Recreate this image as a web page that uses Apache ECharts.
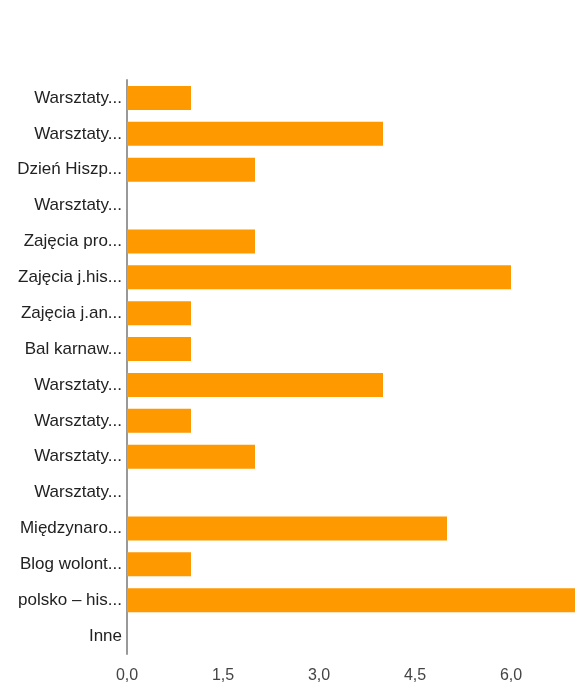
<!DOCTYPE html>
<html>
<head>
<meta charset="utf-8">
<style>
  html, body { margin: 0; padding: 0; background: #fff; }
  #chart { width: 575px; height: 684px; }
</style>
<script src="https://cdn.jsdelivr.net/npm/echarts@6/dist/echarts.min.js"></script>
</head>
<body>
<div id="chart"></div>
<script>
// kategorie (etykiety skrócone tak jak na wykresie)
const categories = [
  'Warsztaty...', 'Warsztaty...', 'Dzień Hiszp...', 'Warsztaty...',
  'Zajęcia pro...', 'Zajęcia j.his...', 'Zajęcia j.an...', 'Bal karnaw...',
  'Warsztaty...', 'Warsztaty...', 'Warsztaty...', 'Warsztaty...',
  'Międzynaro...', 'Blog wolont...', 'polsko – his...', 'Inne'
];
const values = [1, 4, 2, 0, 2, 6, 1, 1, 4, 1, 2, 0, 5, 1, 7, 0];
const xTicks = [0, 1.5, 3, 4.5, 6];

const chart = echarts.init(document.getElementById('chart'));
const option = {
  animation: false,
  textStyle: { fontFamily: 'Liberation Sans, Arial, sans-serif' },
  grid: { left: 127, right: 0, top: 80, bottom: 29 },
  xAxis: {
    type: 'value',
    min: 0,
    max: 7,
    interval: xTicks[1] - xTicks[0],
    axisLine: { show: false },
    axisTick: { show: false },
    splitLine: { show: false },
    axisLabel: {
      showMaxLabel: false,
      margin: 14,
      fontSize: 16,
      color: '#444',
      formatter: v => v.toFixed(1).replace('.', ',')
    }
  },
  yAxis: {
    type: 'category',
    inverse: true,
    data: categories.map((c, i) => ({ value: i + '', label: c })),
    axisLine: { show: true, lineStyle: { color: '#999', width: 2 } },
    axisTick: { show: false },
    axisLabel: {
      margin: 5,
      fontSize: 17,
      color: '#222',
      formatter: (v) => categories[+v]
    }
  },
  series: [{
    type: 'bar',
    data: values,
    barWidth: 24,
    itemStyle: { color: '#ff9900' }
  }]
};
chart.setOption(option);
</script>
</body>
</html>
